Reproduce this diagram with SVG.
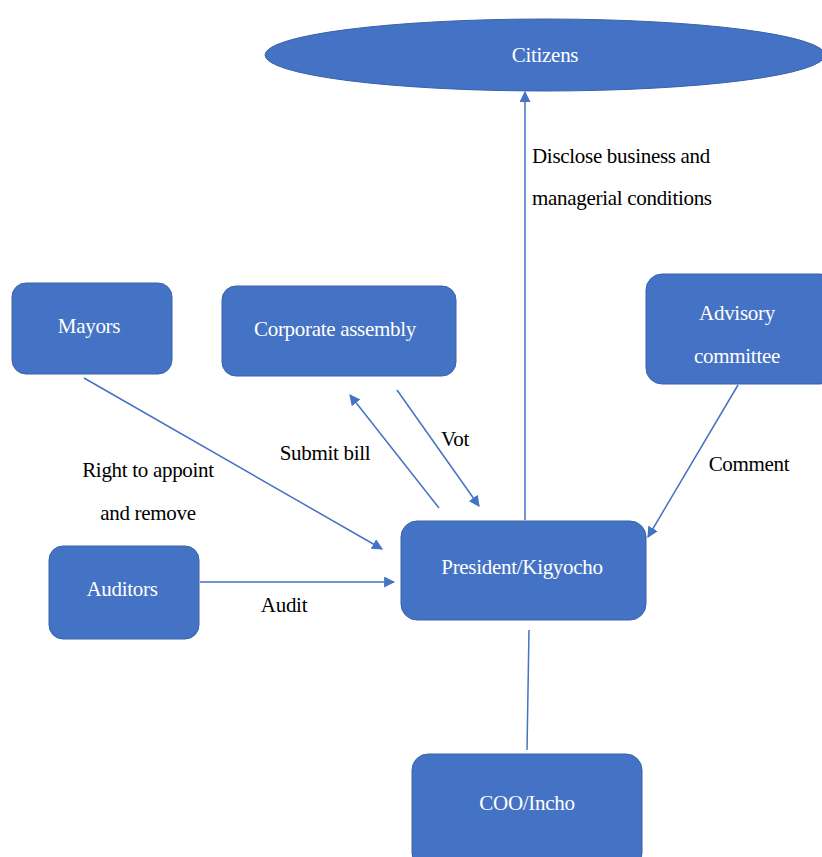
<svg xmlns="http://www.w3.org/2000/svg" width="822" height="857" viewBox="0 0 822 857">
<defs>
<style>
.n{fill:#4472C4;stroke:#3A62AA;stroke-width:1}
.t{font-family:"Liberation Serif","DejaVu Serif Condensed","DejaVu Serif",serif;font-size:21px;fill:#ffffff;text-anchor:middle;letter-spacing:-0.3px}
.l{font-family:"Liberation Serif","DejaVu Serif Condensed","DejaVu Serif",serif;font-size:21px;fill:#000000;letter-spacing:-0.3px}
.c{stroke:#4472C4;stroke-width:1.5;fill:none}
</style>
<marker id="a" viewBox="0 0 10 10" refX="9" refY="5" markerWidth="11" markerHeight="11" markerUnits="userSpaceOnUse" orient="auto">
<path d="M0,0 L10,5 L0,10 z" fill="#4472C4"/>
</marker>
</defs>
<rect width="822" height="857" fill="#ffffff"/>
<g id="connectors">
<line class="c" x1="525" y1="520" x2="525" y2="92" marker-end="url(#a)"/>
<line class="c" x1="84" y1="378" x2="382" y2="549" marker-end="url(#a)"/>
<line class="c" x1="439" y1="508" x2="350" y2="395" marker-end="url(#a)"/>
<line class="c" x1="397" y1="390" x2="479" y2="506" marker-end="url(#a)"/>
<line class="c" x1="738" y1="385" x2="648" y2="537" marker-end="url(#a)"/>
<line class="c" x1="200" y1="582" x2="394" y2="582" marker-end="url(#a)"/>
<line class="c" x1="529" y1="630" x2="527" y2="750"/>
<text class="l" x="532" y="163">Disclose business and</text>
<text class="l" x="532" y="205">managerial conditions</text>
<text class="l" x="325" y="460" text-anchor="middle">Submit bill</text>
<text class="l" x="455" y="446" text-anchor="middle">Vot</text>
<text class="l" x="749" y="471" text-anchor="middle">Comment</text>
<text class="l" x="148" y="477" text-anchor="middle">Right to appoint</text>
<text class="l" x="148" y="520" text-anchor="middle">and remove</text>
<text class="l" x="284" y="612" text-anchor="middle">Audit</text>
</g>
<g id="citizens">
<ellipse class="n" cx="545" cy="55" rx="280" ry="36"/>
<text class="t" x="545" y="62">Citizens</text>
</g>
<g id="mayors">
<rect class="n" x="12" y="283" width="160" height="91" rx="14"/>
<text class="t" x="89" y="333">Mayors</text>
</g>
<g id="corporate-assembly">
<rect class="n" x="222" y="286" width="234" height="90" rx="14"/>
<text class="t" x="335" y="336">Corporate assembly</text>
</g>
<g id="advisory-committee">
<rect class="n" x="646" y="274" width="190" height="110" rx="16"/>
<text class="t" x="737" y="320">Advisory</text>
<text class="t" x="737" y="363">committee</text>
</g>
<g id="auditors">
<rect class="n" x="49" y="546" width="150" height="93" rx="14"/>
<text class="t" x="122" y="596">Auditors</text>
</g>
<g id="president">
<rect class="n" x="401" y="521" width="245" height="99" rx="16"/>
<text class="t" x="522" y="574">President/Kigyocho</text>
</g>
<g id="coo">
<rect class="n" x="412" y="754" width="230" height="115" rx="16"/>
<text class="t" x="527" y="810">COO/Incho</text>
</g>
</svg>
